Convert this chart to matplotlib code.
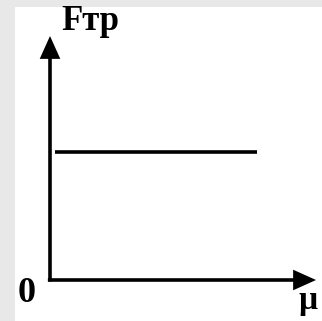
import matplotlib
matplotlib.use("Agg")
import matplotlib.pyplot as plt

# Data (normalised units): friction force is constant with respect to mu
mu = [0.02, 0.78]
F_tr = [0.525, 0.525]

x_label = "μ"
y_label = "Fтр"
origin_label = "0"

W, H = 322, 321
fig = plt.figure(figsize=(W / 100, H / 100), dpi=100)
fig.patch.set_facecolor("#e8e8e8")

# white panel
bg = fig.add_axes([15 / W, 0, 1 - 15 / W, 1 - 7 / H])
bg.set_facecolor("white")
bg.set_axis_off()
bg.add_patch(plt.Rectangle((0, 0), 1, 1, transform=bg.transAxes, color="white"))

# main axes: origin at pixel (50, 280), x tip at 316, y tip at 36
x0, y0, x1, y1 = 50, 280, 316, 36
ax = fig.add_axes([x0 / W, 1 - y0 / H, (x1 - x0) / W, (y0 - y1) / H])
ax.set_xlim(0, 1)
ax.set_ylim(0, 1)
ax.set_axis_off()
ax.patch.set_alpha(0)

lw = 2.6
arrow = dict(arrowstyle="-|>,head_length=1.0,head_width=0.45", lw=lw,
             color="black", shrinkA=0, shrinkB=0, mutation_scale=12,
             joinstyle="miter", capstyle="butt")
ax.annotate("", xy=(1, 0), xytext=(-0.008, 0), xycoords="axes fraction",
            arrowprops=arrow, annotation_clip=False)
ax.annotate("", xy=(0, 1), xytext=(0, -0.006), xycoords="axes fraction",
            arrowprops=arrow, annotation_clip=False)

ax.plot(mu, F_tr, color="black", lw=lw, solid_capstyle="butt")

font = dict(family=["Liberation Serif", "DejaVu Serif"], weight="bold",
            color="black")
fig.text(90 / W, 1 - 22 / H, y_label, ha="center", va="center", fontsize=25, **font)
fig.text(27 / W, 1 - 294 / H, origin_label, ha="center", va="center", fontsize=26, **font)
fig.text(308 / W, 1 - 301 / H, x_label, ha="center", va="center", fontsize=24, **font)

fig.savefig("out.png", dpi=100, facecolor=fig.get_facecolor())
